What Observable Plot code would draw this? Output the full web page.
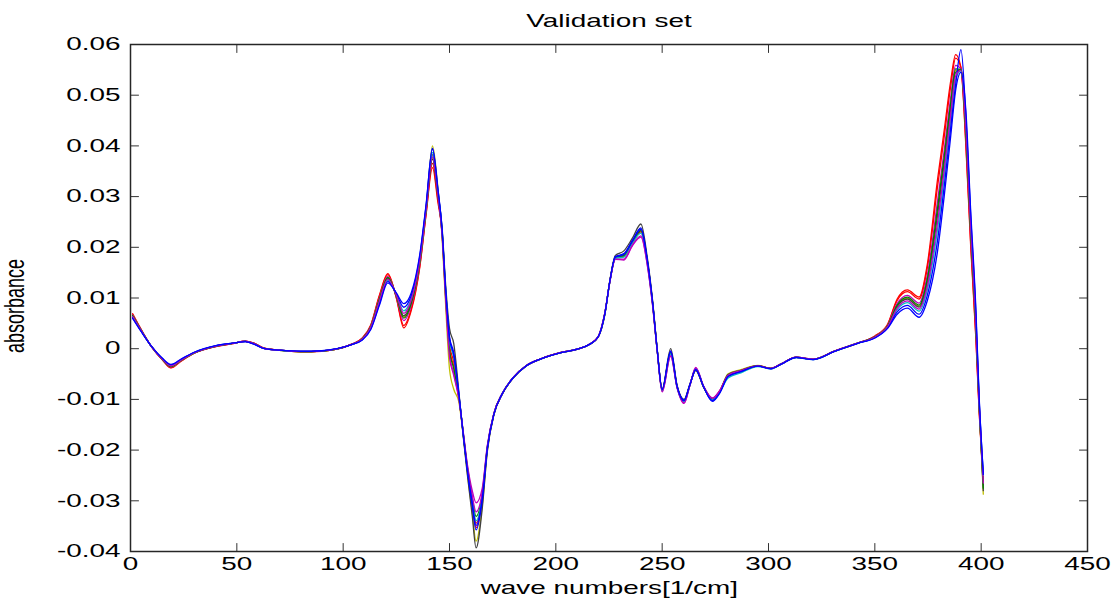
<!DOCTYPE html>
<html><head><meta charset="utf-8">
<script src="https://cdn.jsdelivr.net/npm/d3@7"></script>
<script src="https://cdn.jsdelivr.net/npm/@observablehq/plot@0.6"></script>
<style>html,body{margin:0;padding:0;background:#fff;}</style>
</head><body><div id="chart"></div>
<script>
const waveNumbers = [1,5,10,15,19,24,30,40,48,54,58,63,70,80,90,97,104,109,113,117,121,125,128.5,132,136,139,142,144.5,146.5,148.2,150,152,154.4,156.5,158.3,160.7,162.5,165.4,167.8,170.9,174.8,180,186,193,202,210,216,220,223,225.5,228,232,236,240,243,245.5,247.7,250,254,257,260.3,263,265.8,269.5,273.6,277,281,287,295,301,306,313,321,331,342,350,356,360.5,365.3,370.8,374.7,379.4,382.6,385.7,388,390.5,392.8,395.1,397.5,399,401];

const spectrum01 = [.00690,.00380,.00030,-.00220,-.00380,-.00240,-.00090,.00040,.00100,.00150,.00110,.00010,-.00030,-.00060,-.00050,-.00010,.00090,.00210,.00470,.01050,.01480,.01000,.00410,.00750,.01600,.02650,.03570,.02900,.02300,.01050,.00000,-.00350,-.00950,-.01705,-.02360,-.03075,-.03530,-.02970,-.01966,-.01285,-.00890,-.00570,-.00340,-.00200,-.00080,-.00010,.00090,.00240,.00680,.01350,.01800,.01840,.02105,.02330,.01725,.00900,-.00040,-.00820,-.00075,-.00750,-.01030,-.00720,-.00405,-.00750,-.00985,-.00840,-.00530,-.00440,-.00340,-.00390,-.00300,-.00170,-.00210,-.00050,.00110,.00250,.00480,.00980,.01160,.01020,.01670,.03310,.04300,.05290,.05800,.05550,.04000,.02000,.00200,-.01200,-.02600];
const spectrum02 = [.00681,.00376,.00031,-.00217,-.00373,-.00236,-.00088,.00042,.00101,.00149,.00108,.00009,-.00031,-.00059,-.00049,-.00009,.00089,.00206,.00461,.01030,.01462,.01010,.00458,.00785,.01625,.02670,.03656,.02960,.02320,.01090,.00080,-.00260,-.00930,-.01695,-.02340,-.03025,-.03441,-.02930,-.01954,-.01280,-.00888,-.00568,-.00338,-.00199,-.00079,-.00009,.00091,.00242,.00690,.01355,.01792,.01822,.02090,.02304,.01710,.00890,-.00045,-.00815,-.00090,-.00745,-.01025,-.00718,-.00410,-.00752,-.00990,-.00845,-.00528,-.00438,-.00338,-.00392,-.00302,-.00172,-.00212,-.00051,.00109,.00246,.00472,.00950,.01124,.00980,.01598,.03169,.04170,.05181,.05730,.05540,.04070,.02070,.00260,-.01170,-.02550];
const spectrum03 = [.00663,.00368,.00033,-.00211,-.00359,-.00228,-.00084,.00046,.00103,.00147,.00104,.00007,-.00029,-.00057,-.00047,-.00007,.00087,.00198,.00443,.00990,.01426,.01030,.00554,.00855,.01675,.02710,.03785,.03050,.02270,.00990,-.00120,-.00485,-.00980,-.01650,-.02250,-.02800,-.03040,-.02750,-.01900,-.01270,-.00882,-.00565,-.00336,-.00198,-.00078,-.00008,.00092,.00245,.00700,.01345,.01760,.01750,.02030,.02200,.01650,.00850,-.00060,-.00850,-.00150,-.00770,-.01080,-.00730,-.00370,-.00740,-.00970,-.00825,-.00520,-.00432,-.00336,-.00386,-.00298,-.00168,-.00208,-.00048,.00112,.00238,.00456,.00890,.01052,.00900,.01454,.02887,.03910,.04963,.05590,.05520,.04210,.02210,.00380,-.01110,-.02700];
const spectrum04 = [.00650,.00362,.00035,-.00207,-.00349,-.00222,-.00081,.00049,.00105,.00146,.00101,.00006,-.00032,-.00056,-.00046,-.00006,.00086,.00192,.00430,.00960,.01399,.01045,.00626,.00908,.01713,.02740,.04000,.03200,.02200,.00850,-.00400,-.00800,-.01050,-.01735,-.02420,-.03225,-.03797,-.03090,-.02002,-.01295,-.00895,-.00574,-.00343,-.00202,-.00082,-.00012,.00088,.00236,.00670,.01360,.01808,.01858,.02120,.02356,.01740,.00910,-.00035,-.00810,-.00060,-.00740,-.01020,-.00715,-.00420,-.00760,-.01000,-.00850,-.00495,-.00415,-.00330,-.00385,-.00296,-.00166,-.00206,-.00047,.00113,.00232,.00444,.00845,.00998,.00840,.01346,.02676,.03715,.04800,.05485,.05505,.04315,.02315,.00470,-.01065,-.02870];
const spectrum05 = [.00645,.00360,.00035,-.00205,-.00345,-.00220,-.00080,.00050,.00105,.00145,.00100,.00005,-.00030,-.00055,-.00045,-.00005,.00085,.00190,.00425,.00950,.01390,.01050,.00650,.00925,.01725,.02750,.03828,.03080,.02400,.01250,.00400,.00100,-.00850,-.01750,-.02450,-.03300,-.03930,-.03150,-.02020,-.01300,-.00898,-.00575,-.00344,-.00203,-.00083,-.00013,.00087,.00235,.00660,.01370,.01840,.01930,.02180,.02460,.01800,.00950,-.00020,-.00790,.00000,-.00720,-.01000,-.00705,-.00430,-.00765,-.01005,-.00855,-.00510,-.00425,-.00334,-.00388,-.00299,-.00169,-.00209,-.00049,.00111,.00230,.00440,.00830,.00980,.00820,.01310,.02605,.03650,.04745,.05450,.05500,.04350,.02350,.00500,-.01050,-.02800];
const spectrum06 = [.00654,.00364,.00034,-.00208,-.00352,-.00224,-.00082,.00048,.00104,.00146,.00102,.00006,-.00028,-.00056,-.00046,-.00006,.00086,.00194,.00434,.00970,.01408,.01040,.00602,.00890,.01700,.02730,.03742,.03020,.02290,.01030,-.00040,-.00395,-.00960,-.01680,-.02310,-.02950,-.03307,-.02870,-.01936,-.01275,-.00885,-.00567,-.00337,-.00199,-.00079,-.00009,.00091,.00241,.00685,.01350,.01800,.01840,.02105,.02330,.01725,.00900,-.00040,-.00820,-.00075,-.00750,-.01035,-.00720,-.00400,-.00748,-.00995,-.00848,-.00525,-.00436,-.00339,-.00390,-.00301,-.00171,-.00211,-.00050,.00110,.00234,.00448,.00860,.01016,.00860,.01382,.02746,.03780,.04854,.05520,.05510,.04280,.02280,.00440,-.01080,-.02750];
const spectrum07 = [.00627,.00352,.00037,-.00199,-.00331,-.00212,-.00076,.00054,.00107,.00143,.00096,.00003,-.00031,-.00053,-.00043,-.00003,.00083,.00182,.00407,.00910,.01354,.01070,.00746,.00995,.01775,.02790,.03871,.03110,.02340,.01130,.00160,-.00170,-.00910,-.01690,-.02330,-.03000,-.03396,-.02910,-.01948,-.01280,-.00886,-.00569,-.00339,-.00200,-.00080,-.00010,.00090,.00240,.00680,.01345,.01784,.01804,.02075,.02278,.01695,.00880,-.00050,-.00830,-.00105,-.00760,-.01045,-.00725,-.00395,-.00745,-.01010,-.00860,-.00580,-.00475,-.00352,-.00398,-.00306,-.00176,-.00216,-.00054,.00106,.00222,.00424,.00770,.00908,.00740,.01166,.02323,.03390,.04527,.05310,.05480,.04490,.02490,.00620,-.00990,-.02500];
const spectrum08 = [.00614,.00346,.00039,-.00195,-.00321,-.00206,-.00073,.00057,.00109,.00142,.00093,.00002,-.00029,-.00052,-.00042,-.00002,.00082,.00176,.00394,.00880,.01327,.01085,.00818,.01048,.01813,.02820,.03957,.03170,.02360,.01170,.00240,-.00080,-.00890,-.01710,-.02370,-.03100,-.03574,-.02990,-.01972,-.01290,-.00892,-.00571,-.00341,-.00201,-.00081,-.00011,.00089,.00238,.00675,.01360,.01816,.01876,.02135,.02382,.01755,.00920,-.00030,-.00800,-.00045,-.00735,-.01015,-.00712,-.00415,-.00755,-.01025,-.00870,-.00545,-.00450,-.00344,-.00394,-.00303,-.00173,-.00213,-.00052,.00108,.00216,.00412,.00725,.00854,.00680,.01058,.02112,.03195,.04364,.05205,.05900,.04595,.02595,.00710,-.00945,-.02450];
const spectrum09 = [.00636,.00356,.00036,-.00202,-.00338,-.00216,-.00078,.00052,.00106,.00144,.00098,.00004,-.00030,-.00054,-.00044,-.00004,.00084,.00186,.00416,.00930,.01372,.01060,.00698,.00960,.01750,.02770,.03785,.03050,.02260,.00970,-.00160,-.00530,-.00990,-.01670,-.02290,-.02900,-.03218,-.02830,-.01924,-.01272,-.00884,-.00566,-.00336,-.00198,-.00078,-.00008,.00092,.00244,.00695,.01340,.01768,.01768,.02045,.02226,.01665,.00860,-.00055,-.00845,-.00135,-.00765,-.01070,-.00728,-.00380,-.00742,-.00980,-.00835,-.00522,-.00434,-.00337,-.00387,-.00298,-.00168,-.00208,-.00048,.00112,.00226,.00432,.00800,.00944,.00780,.01238,.02464,.03520,.04636,.05380,.05490,.04420,.02420,.00560,-.01020,-.02650];
const spectrum10 = [.00600,.00340,.00040,-.00190,-.00310,-.00200,-.00070,.00060,.00110,.00140,.00090,.00000,-.00030,-.00050,-.00040,.00000,.00080,.00170,.00380,.00850,.01300,.01100,.00890,.01100,.01850,.02850,.03936,.03155,.02350,.01150,.00200,-.00125,-.00900,-.01700,-.02350,-.03050,-.03485,-.02950,-.01960,-.01285,-.00890,-.00570,-.00340,-.00200,-.00080,-.00010,.00090,.00240,.00680,.01355,.01808,.01858,.02120,.02356,.01740,.00910,-.00035,-.00810,-.00060,-.00745,-.01025,-.00718,-.00410,-.00752,-.01040,-.00880,-.00550,-.00452,-.00345,-.00395,-.00304,-.00174,-.00214,-.00053,.00107,.00210,.00400,.00680,.00800,.00620,.00950,.01900,.03000,.04200,.05100,.05450,.04700,.02700,.00800,-.00900,-.02480];

const xTicks = [0, 50, 100, 150, 200, 250, 300, 350, 400, 450];
const xTickLabels = ["0", "50", "100", "150", "200", "250", "300", "350", "400", "450"];
const yTicks = [-0.04, -0.03, -0.02, -0.01, 0, 0.01, 0.02, 0.03, 0.04, 0.05, 0.06];
const yTickLabels = ["-0.04", "-0.03", "-0.02", "-0.01", "0", "0.01", "0.02", "0.03", "0.04", "0.05", "0.06"];
const titleText = "Validation set";
const xLabelText = "wave numbers[1/cm]";
const yLabelText = "absorbance";

const spectra = [spectrum01, spectrum02, spectrum03, spectrum04, spectrum05, spectrum06, spectrum07, spectrum08, spectrum09, spectrum10];
const lineColors = ["#ff0000", "#ff0000", "#bf00bf", "#bfbf00", "#404040", "#008000", "#00bfbf", "#0000ff", "#bf00bf", "#0000ff"];

const tickShape = {draw(context, l) { context.moveTo(0, 0); context.lineTo(0, -l); }};
const tickStyle = {length: 8, anchor: "start", shape: tickShape, stroke: "#333", strokeWidth: 1};

const plot = Plot.plot({
  width: 1118, height: 608,
  marginLeft: 130, marginRight: 31, marginTop: 44, marginBottom: 57,
  style: {fontFamily: "'Liberation Sans', Arial, sans-serif", fontSize: "18px", background: "#fff", color: "#000"},
  x: {domain: [0, 450]},
  y: {domain: [-0.04, 0.06]},
  marks: [
    ...spectra.map((s, i) => Plot.line(waveNumbers, {x: waveNumbers, y: s, stroke: lineColors[i], strokeWidth: 1.3, curve: "monotone-x"})),
    Plot.vector(yTicks, {y: d => d, frameAnchor: "left", rotate: 90, ...tickStyle}),
    Plot.vector(yTicks, {y: d => d, frameAnchor: "right", rotate: -90, ...tickStyle}),
    Plot.vector(xTicks, {x: d => d, frameAnchor: "bottom", rotate: 0, ...tickStyle}),
    Plot.vector(xTicks, {x: d => d, frameAnchor: "top", rotate: 180, ...tickStyle}),
    Plot.frame({stroke: "#262626", strokeWidth: 1.5}),
    Plot.axisY({ticks: yTicks, tickSize: 0, tickPadding: 10, label: null, fontSize: 18, tickFormat: d => yTickLabels[yTicks.indexOf(d)]}),
    Plot.axisX({ticks: xTicks, tickSize: 0, tickPadding: 6, label: null, fontSize: 18, tickFormat: d => xTickLabels[xTicks.indexOf(d)]}),
    Plot.text([titleText], {frameAnchor: "top", dy: -30, fontSize: 18, fill: "#000"}),
    Plot.text([xLabelText], {frameAnchor: "bottom", dy: 42, fontSize: 18, fill: "#000"}),
    Plot.text([yLabelText], {frameAnchor: "left", textAnchor: "middle", dx: -116, dy: 8, rotate: -90, fontSize: 18, fill: "#000"})
  ]
});

document.getElementById("chart").append(plot);

// The reference figure is horizontally stretched; stretch the glyphs the same way.
const SX = 1.55;
plot.querySelectorAll("text").forEach(t => {
  const g = document.createElementNS("http://www.w3.org/2000/svg", "g");
  t.parentNode.insertBefore(g, t);
  g.appendChild(t);
  const b = g.getBBox();
  const anchor = getComputedStyle(t).textAnchor;
  const rotated = (t.getAttribute("transform") || "").includes("rotate");
  const px = (rotated || anchor === "middle") ? b.x + b.width / 2 : anchor === "end" ? b.x + b.width : b.x;
  g.setAttribute("transform", `translate(${px},0) scale(${SX},1) translate(${-px},0)`);
});
</script>
</body></html>
